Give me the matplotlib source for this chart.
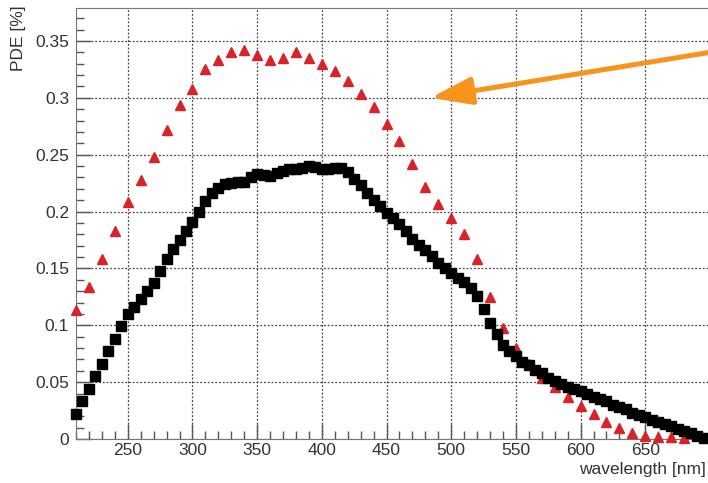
import matplotlib
matplotlib.use("Agg")
import matplotlib.pyplot as plt
from matplotlib.ticker import MultipleLocator

# red triangles, every 10 nm
wl_red = list(range(210, 690, 10))
pde_red = [0.113, 0.134, 0.158, 0.183, 0.208, 0.228, 0.248, 0.272, 0.294, 0.308,
           0.325, 0.333, 0.340, 0.342, 0.338, 0.333, 0.335, 0.340, 0.335, 0.330,
           0.324, 0.315, 0.303, 0.292, 0.277, 0.262, 0.242, 0.222, 0.207, 0.194,
           0.180, 0.158, 0.125, 0.098, 0.080, 0.066, 0.054, 0.046, 0.037, 0.029,
           0.022, 0.015, 0.010, 0.005, 0.003, 0.002, 0.002, 0.001]

# black squares, every 5 nm
wl_black = list(range(210, 700, 5))
pde_black = [0.022, 0.033, 0.044, 0.055, 0.066, 0.077, 0.088, 0.099, 0.110, 0.116,
             0.123, 0.130, 0.137, 0.148, 0.158, 0.167, 0.175, 0.183, 0.191, 0.200,
             0.209, 0.216, 0.221, 0.224, 0.225, 0.226, 0.226, 0.230, 0.233, 0.232,
             0.231, 0.234, 0.236, 0.237, 0.237, 0.238, 0.240, 0.239, 0.237, 0.237,
             0.238, 0.238, 0.235, 0.229, 0.223, 0.216, 0.210, 0.205, 0.199, 0.194,
             0.189, 0.183, 0.176, 0.171, 0.166, 0.161, 0.155, 0.150, 0.146, 0.142,
             0.138, 0.133, 0.126, 0.114, 0.102, 0.092, 0.083, 0.077, 0.073, 0.068,
             0.065, 0.061, 0.058, 0.054, 0.051, 0.048, 0.046, 0.044, 0.042, 0.040,
             0.037, 0.035, 0.033, 0.030, 0.028, 0.026, 0.023, 0.021, 0.019, 0.017,
             0.015, 0.013, 0.011, 0.009, 0.007, 0.005, 0.003, 0.001]

x_ticks = [250, 300, 350, 400, 450, 500, 550, 600, 650]
y_ticks = [0, 0.05, 0.1, 0.15, 0.2, 0.25, 0.3, 0.35]
y_labels = ['0', '0.05', '0.1', '0.15', '0.2', '0.25', '0.3', '0.35']

plt.rcParams['font.family'] = ['Liberation Sans', 'DejaVu Sans']

fig = plt.figure(figsize=(7.08, 4.83), dpi=100)
ax = fig.add_axes([76/708, 44/483, 634/708, 431/483])

ax.plot(wl_red, pde_red, ls='none', marker='^', ms=7.5, color='#d8232a', mec='#d8232a', clip_on=False, zorder=3)
ax.plot(wl_black, pde_black, ls='none', marker='s', ms=7, color='black', clip_on=False, zorder=4)

ax.set_xlim(210, 700)
ax.set_ylim(0, 0.379)
ax.set_xticks(x_ticks)
ax.xaxis.set_minor_locator(MultipleLocator(10))
ax.set_yticks(y_ticks)
ax.set_yticklabels(y_labels)
ax.yaxis.set_minor_locator(MultipleLocator(0.01))

ax.tick_params(which='both', direction='in', colors='#555555', labelcolor='#333333', labelsize=12.5)
ax.tick_params(which='major', length=11, width=1)
ax.tick_params(which='minor', length=6, width=1)
ax.tick_params(axis='x', pad=3)
ax.tick_params(axis='y', pad=5)
for s in ax.spines.values():
    s.set_color('#777777')

ax.grid(True, which='major', ls=(0, (1.5, 1.5)), color='#444444', lw=0.9)
ax.set_axisbelow(True)

# axis titles placed like ROOT does (right / top aligned)
fig.text(706/708, 1 - 462/483, 'wavelength [nm]', ha='right', va='top', fontsize=12.5, color='#333333')
fig.text(18/708, 1 - 5/483, 'PDE [%]', rotation=90, ha='center', va='top', fontsize=12.5, color='#333333')

ax.annotate('', xy=(484, 0.300), xycoords='data',
            xytext=(712, 431), textcoords='figure pixels',
            arrowprops=dict(arrowstyle='-|>,head_length=2.1,head_width=0.7', mutation_scale=12,
                            lw=3.6, color='#f7941d', shrinkA=0, shrinkB=0),
            annotation_clip=False, zorder=5)

fig.savefig('out.png', dpi=100)
